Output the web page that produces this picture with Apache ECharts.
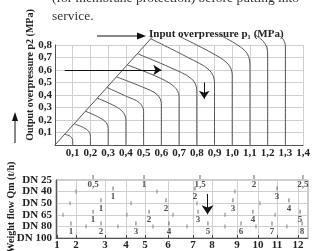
<!DOCTYPE html>
<html>
<head>
<meta charset="utf-8">
<script src="https://cdn.jsdelivr.net/npm/echarts@6/dist/echarts.min.js"></script>
<style>
  html, body { margin: 0; padding: 0; background: #fff; }
  #chart { width: 313px; height: 251px; }
</style>
</head>
<body>
<div id="chart"></div>
<script>
var FONT = '"Liberation Serif", "DejaVu Serif", serif';

// upper diagram: one curve per input overpressure p1, points are [p1, p2] in MPa
var diagonal = [[0, 0], [0.55, 0.865]];
var curve01 = [[0.055, 0.085], [0.08, 0.075], [0.094, 0.058], [0.1, 0.035], [0.1, 0]];
var curve02 = [[0.108, 0.17], [0.16, 0.14], [0.19, 0.11], [0.2, 0.07], [0.2, 0]];
var curve03 = [[0.172, 0.27], [0.25, 0.22], [0.288, 0.18], [0.3, 0.13], [0.3, 0]];
var curve04 = [[0.239, 0.375], [0.34, 0.31], [0.385, 0.26], [0.4, 0.2], [0.4, 0]];
var curve05 = [[0.293, 0.46], [0.41, 0.385], [0.475, 0.34], [0.5, 0.27], [0.5, 0]];
var curve06 = [[0.347, 0.545], [0.5, 0.46], [0.575, 0.405], [0.6, 0.33], [0.6, 0]];
var curve07 = [[0.408, 0.64], [0.57, 0.55], [0.67, 0.47], [0.7, 0.39], [0.7, 0]];
var curve08 = [[0.465, 0.73], [0.65, 0.62], [0.77, 0.53], [0.8, 0.44], [0.8, 0]];
var curve09 = [[0.54, 0.85], [0.75, 0.7], [0.87, 0.6], [0.9, 0.5], [0.9, 0]];
var curve10 = [[0.7, 0.87], [0.88, 0.74], [0.975, 0.65], [1.0, 0.56], [1.0, 0]];
var curve11 = [[0.93, 0.88], [1.03, 0.8], [1.085, 0.73], [1.1, 0.64], [1.1, 0]];
var curve12 = [[1.13, 0.88], [1.175, 0.83], [1.195, 0.78], [1.2, 0.72], [1.2, 0]];
var curve13 = [[1.27, 0.87], [1.29, 0.84], [1.3, 0.79], [1.3, 0]];
var curves = [curve01, curve02, curve03, curve04, curve05, curve06, curve07,
              curve08, curve09, curve10, curve11, curve12, curve13];

// lower diagram: DN rows and flow scales (position read on the p1 scale)
var dnRows = ['DN 25', 'DN 40', 'DN 50', 'DN 65', 'DN 80', 'DN 100'];
var scaleTickPos = [0.006, 0.111, 0.272, 0.389, 0.494, 0.622, 0.761, 0.867, 1.006, 1.122, 1.228, 1.344];
var scaleTickLabels = ['1', '2', '3', '4', '5', '6', '7', '8', '9', '10', '11', '12'];

var dn25Labels = ['0,5', '1', '1,5', '2', '2,5'];
var dn25Pos = [0.206, 0.489, 0.8, 1.1, 1.372];
var dn25Minor = [];
var dn40Labels = ['1', '2', '3'];
var dn40Pos = [0.317, 0.772, 1.228];
var dn40Minor = [0.111, 0.561, 0.994];
var dn50Labels = ['1', '2', '3', '4'];
var dn50Pos = [0.25, 0.611, 0.983, 1.294];
var dn50Minor = [0.078, 0.417, 0.783, 1.133];
var dn65Labels = ['1', '2', '3', '4', '5'];
var dn65Pos = [0.206, 0.517, 0.789, 1.094, 1.356];
var dn65Minor = [0.039, 0.394, 0.65, 0.939, 1.217];
var dn80Labels = ['1', '2', '3', '4', '5', '6', '7', '8'];
var dn80Pos = [0.083, 0.25, 0.444, 0.628, 0.844, 1.028, 1.2, 1.367];
var dn80Minor = [0.167, 0.344, 0.539, 0.728, 0.939, 1.111, 1.283];

var rowLabels = [dn25Labels, dn40Labels, dn50Labels, dn65Labels, dn80Labels];
var rowPos = [dn25Pos, dn40Pos, dn50Pos, dn65Pos, dn80Pos];
var rowMinor = [dn25Minor, dn40Minor, dn50Minor, dn65Minor, dn80Minor];

function comma(v) {
  return v.toFixed(1).replace('.', ',');
}

var labelStyle = { fontFamily: FONT, fontWeight: 'bold', fontSize: 11, color: '#222' };
var gridLine = { lineStyle: { color: '#cfcfcf', width: 1 } };
var darkLine = { show: true, onZero: false, lineStyle: { color: '#555', width: 1 } };

var series = [];

// diagonal with the two arrows of the upper diagram
series.push({
  type: 'line', xAxisIndex: 0, yAxisIndex: 0,
  data: diagonal, symbol: 'none', clip: false, silent: true,
  lineStyle: { color: '#555', width: 1 },
  markLine: {
    silent: true, symbol: ['none', 'arrow'], symbolSize: 8,
    label: { show: false },
    lineStyle: { type: 'solid', color: '#111', width: 1 },
    data: [
      [{ coord: [0.055, 0.6] }, { coord: [0.6, 0.6] }],
      [{ coord: [0.842, 0.5] }, { coord: [0.842, 0.37] }]
    ]
  }
});

curves.forEach(function (c) {
  series.push({
    type: 'line', xAxisIndex: 0, yAxisIndex: 0,
    data: c, smooth: 0.35, symbol: 'none', clip: false, silent: true,
    lineStyle: { color: '#555', width: 1 }
  });
});

// labelled marks of the flow scales
var majorData = [];
var minorData = [];
rowLabels.forEach(function (labels, r) {
  labels.forEach(function (t, i) {
    majorData.push({ name: t, value: [rowPos[r][i], r] });
  });
  rowMinor[r].forEach(function (p) {
    minorData.push([p, r]);
  });
});

series.push({
  type: 'scatter', xAxisIndex: 1, yAxisIndex: 1,
  data: majorData, symbol: 'rect', symbolSize: [1, 4], symbolOffset: [0, -3],
  itemStyle: { color: '#444' }, silent: true,
  label: {
    show: true, position: 'inside', offset: [0, 8], formatter: '{b}',
    fontFamily: FONT, fontWeight: 'bold', fontSize: 9, color: '#222'
  },
  markLine: {
    silent: true, symbol: ['none', 'arrow'], symbolSize: 9,
    label: { show: false },
    lineStyle: { type: 'solid', color: '#111', width: 1 },
    data: [[{ coord: [0.842, 1.2] }, { coord: [0.842, 2.95] }]]
  }
});

series.push({
  type: 'scatter', xAxisIndex: 1, yAxisIndex: 1,
  data: minorData, symbol: 'rect', symbolSize: [1, 4],
  itemStyle: { color: '#666' }, silent: true
});

var option = {
  animation: false,
  backgroundColor: '#fff',
  grid: [
    { left: 55, top: 45, width: 256, height: 100 },
    { left: 56, top: 180, width: 252, height: 62, show: true, borderColor: '#999', borderWidth: 1 }
  ],
  xAxis: [
    {
      gridIndex: 0, type: 'value', min: 0, max: 1.4, interval: 0.1,
      axisLine: darkLine, axisTick: { show: false }, splitLine: gridLine,
      axisLabel: Object.assign({ margin: 3, showMinLabel: false, formatter: comma }, labelStyle)
    },
    {
      gridIndex: 1, type: 'value', min: 0, max: 1.4, interval: 0.1, position: 'bottom',
      axisLine: darkLine, splitLine: gridLine,
      axisTick: { show: true, inside: true, length: 3, customValues: scaleTickPos, lineStyle: { color: '#444' } },
      axisLabel: Object.assign({
        margin: 2, customValues: scaleTickPos,
        formatter: function (v) {
          var i = scaleTickPos.indexOf(v);
          return i < 0 ? '' : scaleTickLabels[i];
        }
      }, labelStyle)
    }
  ],
  yAxis: [
    {
      gridIndex: 0, type: 'value', min: 0, max: 0.8, interval: 0.1,
      axisLine: darkLine, axisTick: { show: false }, splitLine: gridLine,
      axisLabel: Object.assign({ margin: 3, showMinLabel: false, formatter: comma }, labelStyle)
    },
    {
      gridIndex: 1, type: 'value', min: 0, max: 5, interval: 1, inverse: true,
      axisLine: darkLine, axisTick: { show: false }, splitLine: gridLine,
      axisLabel: Object.assign({
        margin: 4,
        formatter: function (v) { return dnRows[v]; }
      }, labelStyle)
    }
  ],
  graphic: [
    {
      type: 'text', left: 52, top: -9,
      style: { text: '(for membrane protection) before putting into', font: '13.5px ' + FONT, fill: '#333' }
    },
    {
      type: 'text', left: 52, top: 9,
      style: { text: 'service.', font: '13.5px ' + FONT, fill: '#333' }
    },
    {
      type: 'line', shape: { x1: 97, y1: 36, x2: 140, y2: 36 },
      style: { stroke: '#111', lineWidth: 1 }
    },
    {
      type: 'polygon', shape: { points: [[137, 32.5], [137, 39.5], [146, 36]] },
      style: { fill: '#111' }
    },
    {
      type: 'text', left: 149, top: 29,
      style: { text: 'Input overpressure p\u2081 (MPa)', font: 'bold 11px ' + FONT, fill: '#222' }
    },
    {
      type: 'text', x: 30, y: 75, rotation: Math.PI / 2,
      style: {
        text: 'Output overpressure p2 (MPa)', font: 'bold 10px ' + FONT, fill: '#222',
        align: 'center', verticalAlign: 'middle'
      }
    },
    {
      type: 'text', x: 11, y: 207, rotation: Math.PI / 2,
      style: {
        text: 'Weight flow Qm (t/h)', font: 'bold 10px ' + FONT, fill: '#222',
        align: 'center', verticalAlign: 'middle'
      }
    },
    {
      type: 'line', shape: { x1: 15, y1: 143, x2: 15, y2: 118 },
      style: { stroke: '#111', lineWidth: 1 }
    },
    {
      type: 'polygon', shape: { points: [[12, 121], [18, 121], [15, 112]] },
      style: { fill: '#111' }
    }
  ],
  series: series
};

var chart = echarts.init(document.getElementById('chart'));
chart.setOption(option);
</script>
</body>
</html>
